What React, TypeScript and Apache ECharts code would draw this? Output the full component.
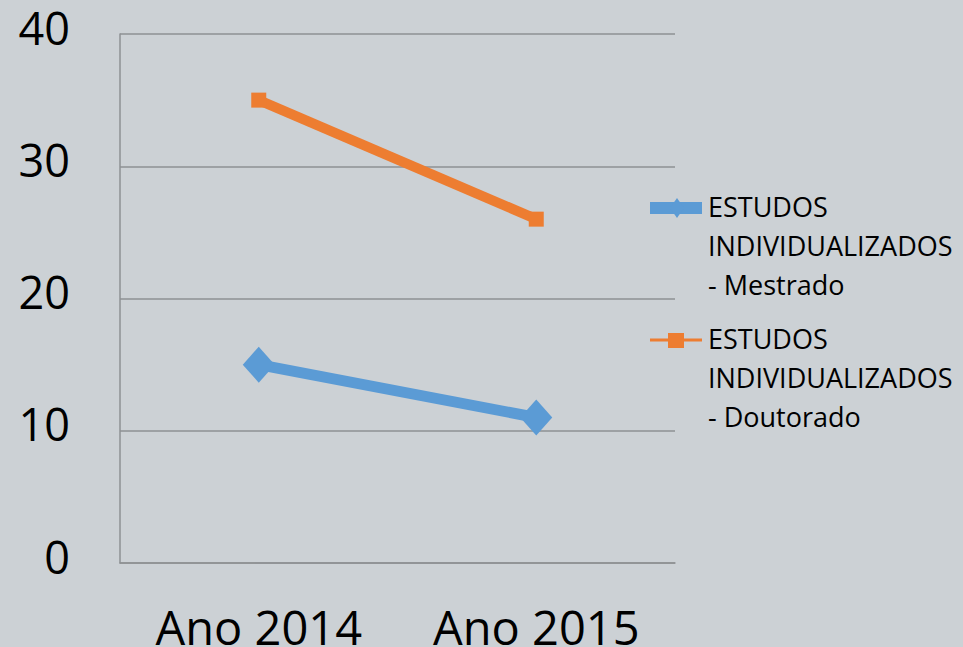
import React, { useEffect, useRef } from "react";
import * as echarts from "echarts";

const categories = ["Ano 2014", "Ano 2015"];
const mestrado = [15, 11];
const doutorado = [35, 26];
const seriesNames = [
  "ESTUDOS\nINDIVIDUALIZADOS\n- Mestrado",
  "ESTUDOS\nINDIVIDUALIZADOS\n- Doutorado",
];
const yTicks = { min: 0, max: 40, interval: 10 };

const BLUE = "#5b9bd5";
const ORANGE = "#ed7d31";
const FONT = "'Open Sans', 'Noto Sans', sans-serif";

export default function App() {
  const ref = useRef<HTMLDivElement>(null);
  useEffect(() => {
    if (!ref.current) return;
    const chart = echarts.init(ref.current, null, { renderer: "svg" });
    chart.setOption({
      animation: false,
      backgroundColor: "#ccd1d5",
      grid: { left: 120, right: 288, top: 34, bottom: 84, containLabel: false, outerBoundsMode: "none" },
      xAxis: {
        type: "category",
        data: categories,
        boundaryGap: true,
        axisLine: { show: true, lineStyle: { color: "#8e9193", width: 1.5 } },
        axisTick: { show: false },
        axisLabel: { color: "#000", fontSize: 47, fontFamily: FONT, margin: 40 },
      },
      yAxis: {
        type: "value",
        min: yTicks.min,
        max: yTicks.max,
        interval: yTicks.interval,
        axisLine: { show: true, lineStyle: { color: "#8e9193", width: 1.5 } },
        axisTick: { show: false },
        splitLine: { lineStyle: { color: "#8e9193", width: 1.5 } },
        axisLabel: {
          color: "#000", fontSize: 45, fontFamily: FONT, margin: 50,
          verticalAlign: "bottom", lineHeight: 14,
        },
      },
      series: [
        {
          name: seriesNames[0],
          type: "line",
          data: mestrado,
          symbol: "diamond",
          symbolSize: [32, 36],
          lineStyle: { color: BLUE, width: 11 },
          itemStyle: { color: BLUE },
        },
        {
          name: seriesNames[1],
          type: "line",
          data: doutorado,
          symbol: "rect",
          symbolSize: [15, 15],
          lineStyle: { color: ORANGE, width: 10 },
          itemStyle: { color: ORANGE },
        },
      ],
      graphic: [
        { type: "line", shape: { x1: 650, y1: 208, x2: 702, y2: 208 }, style: { stroke: BLUE, lineWidth: 12 } },
        { type: "polygon", shape: { points: [[677, 198], [684, 208], [677, 218], [670, 208]] }, style: { fill: BLUE } },
        {
          type: "text", x: 708, y: 187,
          style: { text: seriesNames[0], font: `27px ${FONT}`, fill: "#000", lineHeight: 39, verticalAlign: "top" },
        },
        { type: "line", shape: { x1: 650, y1: 340, x2: 702, y2: 340 }, style: { stroke: ORANGE, lineWidth: 3 } },
        { type: "rect", shape: { x: 668, y: 333, width: 16, height: 15 }, style: { fill: ORANGE } },
        {
          type: "text", x: 708, y: 319,
          style: { text: seriesNames[1], font: `27px ${FONT}`, fill: "#000", lineHeight: 39, verticalAlign: "top" },
        },
      ],
    });
    return () => chart.dispose();
  }, []);
  return <div ref={ref} style={{ position: "fixed", left: 0, top: 0, width: 963, height: 647 }} />;
}
